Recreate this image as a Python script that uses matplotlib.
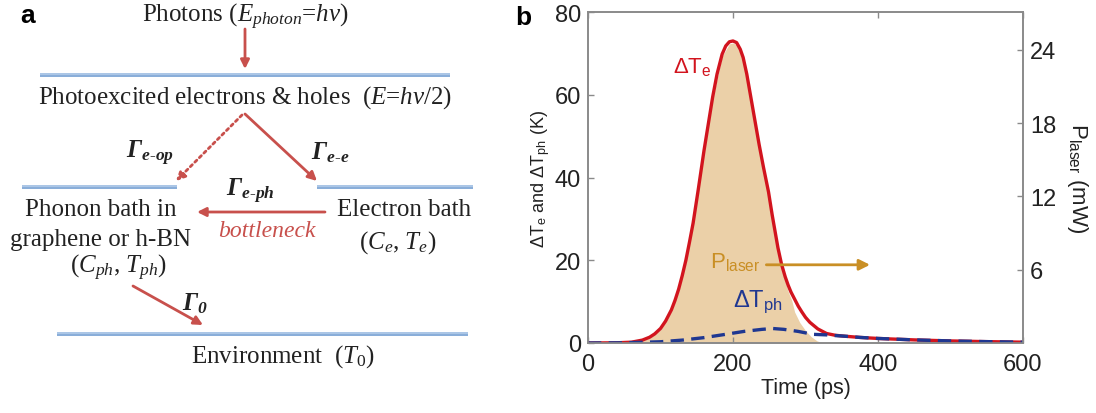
import matplotlib
matplotlib.use("Agg")
import matplotlib.pyplot as plt
from matplotlib.patches import FancyArrowPatch

plt.rcParams['font.family'] = ['Liberation Sans', 'DejaVu Sans']
plt.rcParams['mathtext.fontset'] = 'custom'
plt.rcParams['mathtext.rm'] = 'Liberation Serif'
plt.rcParams['mathtext.it'] = 'Liberation Serif:italic'
plt.rcParams['mathtext.bf'] = 'Liberation Serif:bold'
plt.rcParams['mathtext.bfit'] = 'Liberation Serif:italic:bold'

# ---------------- data (panel b) ----------------
t_te = [0, 40, 60, 75, 85, 92, 100, 107, 115, 120, 125, 130, 135, 140, 145, 152, 160, 166,
        172, 178, 185, 190, 195, 200, 205, 210, 214, 219, 224, 230, 236, 242, 249, 254,
        258, 262, 267, 272, 276, 280, 285, 290, 295, 300, 306, 317, 329, 340, 350, 375,
        400, 450, 500, 550, 600]
dT_e = [0, 0.05, 0.2, 0.7, 1.4, 2.2, 3.5, 5.3, 8, 10.3, 13, 16.3, 20, 24.4, 29, 37, 46.5, 53,
        59.5, 65, 69.8, 71.8, 72.8, 73, 72.6, 71, 69, 65, 60, 54, 48, 42.5, 36.5, 31,
        27, 23, 19, 16, 14, 12.3, 10.6, 8.9, 7.5, 6.2, 5, 3.4, 2.3, 1.9, 1.7, 1.35,
        1.1, 0.75, 0.5, 0.33, 0.2]

t_ph = [0, 50, 100, 130, 160, 190, 215, 240, 255, 270, 290, 310, 330, 340, 350, 375, 400,
        450, 500, 550, 600]
dT_ph = [0, 0.05, 0.3, 0.7, 1.3, 2.1, 2.8, 3.3, 3.5, 3.3, 2.8, 2.1, 1.95, 1.8, 1.7, 1.35, 1.1,
         0.75, 0.5, 0.33, 0.2]

t_laser = [50, 70, 85, 100, 115, 125, 135, 145, 152, 160, 172, 185, 195, 200, 205, 214, 224,
           236, 249, 258, 265, 276, 281, 285, 292, 300, 308, 316, 325]
p_laser = [0, 0.1, 0.41, 1.08, 2.57, 4.27, 6.61, 9.65, 12.36, 15.58, 19.99, 23.48, 24.49,
           24.56, 24.42, 23.2, 20.16, 16.09, 12.2, 8.98, 6.44, 4.23, 3.49, 2.54, 1.69, 1.02,
           0.51, 0.17, 0]

x_ticks = [0, 200, 400, 600]
y_ticks = [0, 20, 40, 60, 80]
p_ticks = [6, 12, 18, 24]

RED = '#d2141e'
NAVY = '#1f3791'
TAN = '#ebd0a8'
GOLD = '#c98f25'
ARED = '#c8504c'
BLUE1 = '#a2c0e4'
BLUE2 = '#7ea6d6'
GRAY = '#8a8a8a'
INK = '#222222'

fig = plt.figure(figsize=(10.96, 4.14), dpi=100)

# ---------------- panel a (diagram) ----------------
axa = fig.add_axes([0, 0, 1, 1])
axa.set_xlim(0, 1096)
axa.set_ylim(414, 0)
axa.axis('off')

SER = 'Liberation Serif'
FS = 18

def dline(x0, x1, y):
    axa.plot([x0, x1], [y - 1.3, y - 1.3], color=BLUE1, lw=1.3, solid_capstyle='butt')
    axa.plot([x0, x1], [y + 1.3, y + 1.3], color=BLUE2, lw=1.3, solid_capstyle='butt')

def arrow(p0, p1, ls='-'):
    a = FancyArrowPatch(p0, p1, arrowstyle='-|>', mutation_scale=13, color=ARED,
                        lw=2.0, linestyle=ls, shrinkA=0, shrinkB=0)
    axa.add_patch(a)

axa.text(20, 16, 'a', fontsize=19, fontweight='bold', ha='left', va='center',
         family='Liberation Sans')
axa.text(245, 17, r'Photons ($E_{photon}$=$hv$)', fontsize=FS, family=SER,
         ha='center', va='center', color=INK)
arrow((245, 30), (245, 70))
dline(40, 450, 76)
axa.text(245, 98, r'Photoexcited electrons & holes  ($E$=$hv$/2)', fontsize=FS, family=SER,
         ha='center', va='center', color=INK)
arrow((245, 115), (317, 182))
arrow((242, 116), (176, 182), ls=(0, (1, 1.3)))
axa.text(150, 153, r'$\mathbfit{\Gamma}_{\mathbfit{e}\text{-}\mathbfit{op}}$', fontsize=FS,
         ha='center', va='center', color=INK)
axa.text(330, 153, r'$\mathbfit{\Gamma}_{\mathbfit{e}\text{-}\mathbfit{e}}$', fontsize=FS,
         ha='center', va='center', color=INK)
dline(22, 177, 188)
dline(317, 473, 188)
axa.text(250, 191, r'$\mathbfit{\Gamma}_{\mathbfit{e}\text{-}\mathbfit{ph}}$', fontsize=FS,
         ha='center', va='center', color=INK)
arrow((325, 213), (197, 213))
axa.text(267, 232, 'bottleneck', fontsize=FS - 1, family=SER, style='italic',
         ha='center', va='center', color='#c8504c')
axa.text(101, 210, 'Phonon bath in', fontsize=FS, family=SER, ha='center', va='center',
         color=INK)
axa.text(100, 240, 'graphene or h-BN', fontsize=FS, family=SER, ha='center', va='center',
         color=INK)
axa.text(118, 268, r'($C_{ph}$, $T_{ph}$)', fontsize=FS, family=SER, ha='center',
         va='center', color=INK)
axa.text(404, 210, 'Electron bath', fontsize=FS, family=SER, ha='center', va='center',
         color=INK)
axa.text(398, 243, r'($C_e$, $T_e$)', fontsize=FS, family=SER, ha='center', va='center',
         color=INK)
arrow((133, 287), (203, 326))
axa.text(195, 304, r'$\mathbfit{\Gamma}_{\mathbfit{0}}$', fontsize=FS, ha='center',
         va='center', color=INK)
dline(57, 468, 335)
axa.text(283, 357, r'Environment  ($T_{\mathit{0}}$)', fontsize=FS, family=SER,
         ha='center', va='center', color=INK)
axa.text(515, 18, 'b', fontsize=19, fontweight='bold', ha='left', va='center',
         family='Liberation Sans')

# ---------------- panel b (chart) ----------------
L, R, B, T = 588 / 1096, 1023 / 1096, 1 - 344 / 414, 1 - 13 / 414
ax = fig.add_axes([L, B, R - L, T - B])
ax2 = ax.twinx()
ax.set_zorder(ax2.get_zorder() + 1)
ax.patch.set_visible(False)

ax2.fill_between(t_laser, 0, p_laser, color=TAN, lw=0)
ax2.set_ylim(0, 27.1)
ax2.set_yticks(p_ticks)

ax.plot(t_te, dT_e, color=RED, lw=2.4, solid_capstyle='round')
ax.plot(t_ph, dT_ph, color=NAVY, lw=2.4, dashes=(4, 2.2))
ax.set_xlim(0, 600)
ax.set_ylim(0, 80)
ax.set_xticks(x_ticks)
ax.set_yticks(y_ticks)

for a in (ax, ax2):
    for s in a.spines.values():
        s.set_color(GRAY)
        s.set_linewidth(1.2)
    a.tick_params(direction='in', length=4, width=1, color=GRAY, labelsize=17,
                  labelcolor=INK, pad=5)
ax.tick_params(axis='x', pad=7)
ax.tick_params(top=True, right=False)
ax2.tick_params(left=False, right=True)

ax.set_xlabel('Time (ps)', fontsize=15.5, color=INK, labelpad=2)
ax.set_ylabel(r'ΔT$_\mathregular{e}$ and ΔT$_\mathregular{ph}$ (K)', fontsize=13,
              color=INK, labelpad=2)
ax2.set_ylabel(r'P$_\mathregular{laser}$ (mW)', fontsize=16, color=INK,
               rotation=270, labelpad=24)

ax.text(117, 67, r'ΔT$_\mathregular{e}$', color=RED, fontsize=16, ha='left', va='center')
ax.text(168, 19.8, r'P$_\mathregular{laser}$', color=GOLD, fontsize=16, ha='left',
        va='center')
ax.annotate('', xy=(389, 18.9), xytext=(246, 18.9),
            arrowprops=dict(arrowstyle='-|>', color=GOLD, lw=2, mutation_scale=16,
                            shrinkA=0, shrinkB=0))
ax.text(200, 10.2, r'ΔT$_\mathregular{ph}$', color=NAVY, fontsize=17, ha='left',
        va='center')

fig.savefig('out.png', dpi=100)
